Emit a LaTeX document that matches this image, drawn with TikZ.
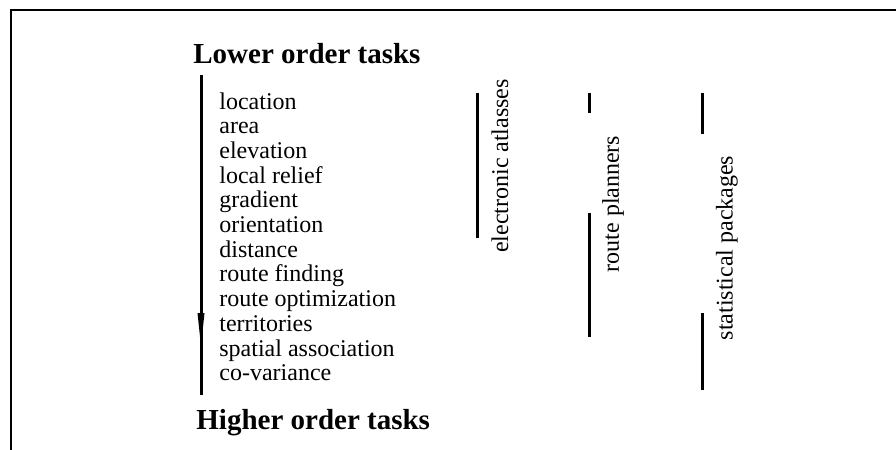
\documentclass[tikz,border=0pt]{standalone}
\usepackage{fontspec}
\setmainfont{Liberation Serif}
\usetikzlibrary{positioning}
\tikzstyle{heading} = [font=\fontsize{14.5}{17}\selectfont\bfseries, inner sep=0pt, anchor=base west]
\tikzstyle{task} = [font=\fontsize{12}{14}\selectfont, inner sep=0pt, anchor=base west]
\tikzstyle{tool} = [font=\fontsize{12}{14}\selectfont, inner sep=0pt, rotate=90]
\tikzstyle{bar} = [line width=1.5pt]
\tikzstyle{frame} = [line width=1pt]

\begin{document}
\begin{tikzpicture}[x=0.5pt, y=-0.5pt, node distance=12.35pt]
        \useasboundingbox (0,0) rectangle (896,450);
        % Frame
        \coordinate (fbl) at (11,450);
        \coordinate (ftl) at (11,10);
        \coordinate (ftr) at (896,10);
        \draw [frame] (fbl) -- (ftl) -- (ftr);

        % Headings
        \node (lower) [heading] at (193,63) {Lower order tasks};
        \node (higher) [heading] at (196,429) {Higher order tasks};

        % Tasks
        \node (location) [task] at (219,109) {location};
        \node (area) [below=of location.base west, task] {area};
        \node (elevation) [below=of area.base west, task] {elevation};
        \node (relief) [below=of elevation.base west, task] {local relief};
        \node (gradient) [below=of relief.base west, task] {gradient};
        \node (orientation) [below=of gradient.base west, task] {orientation};
        \node (distance) [below=of orientation.base west, task] {distance};
        \node (finding) [below=of distance.base west, task] {route finding};
        \node (optimization) [below=of finding.base west, task] {route optimization};
        \node (territories) [below=of optimization.base west, task] {territories};
        \node (association) [below=of territories.base west, task] {spatial association};
        \node (covariance) [below=of association.base west, task] {co-variance};

        % Tools
        \node (atlasses) [tool] at (500,166) {electronic atlasses};
        \node (planners) [tool] at (613,204) {route planners};
        \node (packages) [tool] at (727,248) {statistical packages};

        % Order arrow
        \coordinate (atop) at (201,75);
        \coordinate (abot) at (201,395);
        \draw [bar] (atop) -- (abot);
        \fill (197.5,313) -- (204.5,313) -- (201,346) -- cycle;

        % Bars
        \draw [bar] (477,93) -- (477,238);
        \draw [bar] (589,93) -- (589,113);
        \draw [bar] (589,213) -- (589,337);
        \draw [bar] (702,93) -- (702,134);
        \draw [bar] (702,313) -- (702,390);
    \end{tikzpicture}
\end{document}
